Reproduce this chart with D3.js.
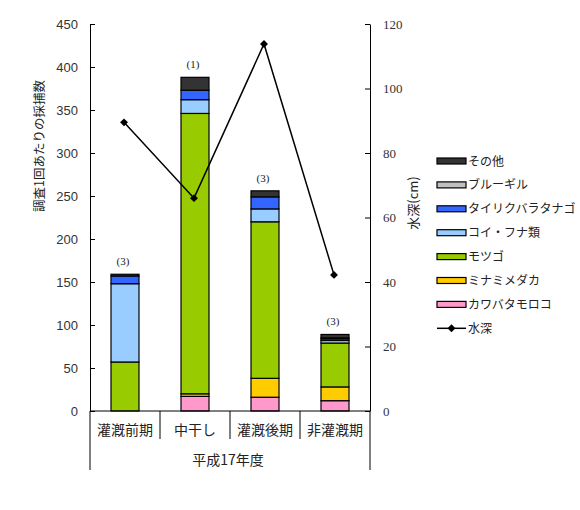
<!DOCTYPE html>
<html>
<head>
<meta charset="utf-8">
<script src="https://cdn.jsdelivr.net/npm/d3@7"></script>
<style>
  html, body { margin: 0; padding: 0; background: #fff; }
  svg { display: block; }
</style>
</head>
<body>
<svg id="chart" width="580" height="510"></svg>
<script>
// ---- data ----
const categories = ["灌漑前期", "中干し", "灌漑後期", "非灌漑期"];
const groupLabel = "平成17年度";
const sampleCounts = ["(3)", "(1)", "(3)", "(3)"];
const seriesNames = ["カワバタモロコ", "ミナミメダカ", "モツゴ", "コイ・フナ類", "タイリクバラタナゴ", "ブルーギル", "その他"];
const kawabata = [0, 17, 16, 12];
const minami   = [0, 3, 22, 16];
const motsugo  = [57, 326, 182, 51];
const koiFuna  = [91, 16, 15, 3];
const tairiku  = [9, 11, 14, 2];
const bluegill = [0, 0, 0, 1];
const other    = [2, 15, 7, 4];
const waterDepth = [89.5, 66, 113.8, 42.2];
const leftTicks = [0, 50, 100, 150, 200, 250, 300, 350, 400, 450];
const rightTicks = [0, 20, 40, 60, 80, 100, 120];
const colors = ["#ff99cc", "#ffcc00", "#99cc00", "#99ccff", "#3366ff", "#c0c0c0", "#333333"];

const seriesValues = [kawabata, minami, motsugo, koiFuna, tairiku, bluegill, other];
const table = categories.map((c, i) => {
  const row = { cat: c };
  seriesNames.forEach((s, j) => row[s] = seriesValues[j][i]);
  return row;
});

// ---- layout ----
const svg = d3.select("#chart");
const L = 90, R = 370, T = 24, B = 411;
const jpFont = "'Noto Sans CJK JP', sans-serif";
const numFont = "'Liberation Sans', Arial, sans-serif";
const serifFont = "'Liberation Serif', 'Times New Roman', serif";

const x = d3.scaleBand().domain(categories).range([L, R]).paddingInner(0).paddingOuter(0);
const yL = d3.scaleLinear().domain([0, 450]).range([B, T]);
const yR = d3.scaleLinear().domain([0, 120]).range([B, T]);

// bars
const stack = d3.stack().keys(seriesNames)(table);
const barW = x.bandwidth() * 0.4;
const gBars = svg.append("g");
stack.forEach((layer, j) => {
  gBars.selectAll(null).data(layer).join("rect")
    .filter(d => d[1] - d[0] > 0)
    .attr("x", d => x(d.data.cat) + (x.bandwidth() - barW) / 2)
    .attr("y", d => yL(d[1]))
    .attr("width", barW)
    .attr("height", d => yL(d[0]) - yL(d[1]))
    .attr("fill", colors[j])
    .attr("stroke", "#000")
    .attr("stroke-width", 1.2);
});

// sample count labels
const totals = table.map(r => d3.sum(seriesNames, s => r[s]));
svg.append("g").selectAll("text").data(categories).join("text")
  .attr("x", d => x(d) + x.bandwidth() / 2 - 2)
  .attr("y", (d, i) => yL(totals[i]) - 9)
  .attr("text-anchor", "middle")
  .attr("font-family", serifFont)
  .attr("font-size", 11)
  .attr("fill", "#222")
  .text((d, i) => sampleCounts[i]);

// left axis
const axL = d3.axisLeft(yL).tickValues(leftTicks).tickSizeInner(-5).tickSizeOuter(0).tickPadding(12);
const gL = svg.append("g").attr("transform", `translate(${L},0)`).call(axL);
gL.select(".domain").attr("stroke", "#000");
gL.selectAll(".tick line").attr("stroke", "#000");
gL.selectAll(".tick text").attr("font-family", numFont).attr("font-size", 13).attr("fill", "#333");

// right axis
const axR = d3.axisRight(yR).tickValues(rightTicks).tickSizeInner(-5).tickSizeOuter(0).tickPadding(13);
const gR = svg.append("g").attr("transform", `translate(${R},0)`).call(axR);
gR.select(".domain").attr("stroke", "#000");
gR.selectAll(".tick line").attr("stroke", "#000");
gR.selectAll(".tick text").attr("font-family", serifFont).attr("font-size", 13).attr("fill", "#333");

// bottom axis line
svg.append("line").attr("x1", L).attr("x2", R).attr("y1", B).attr("y2", B).attr("stroke", "#000");
// category separators
categories.slice(1).forEach(c => {
  svg.append("line").attr("x1", x(c)).attr("x2", x(c)).attr("y1", B).attr("y2", B + 28).attr("stroke", "#000");
});
// outer group lines
[L, R].forEach(px => {
  svg.append("line").attr("x1", px).attr("x2", px).attr("y1", B).attr("y2", B + 59).attr("stroke", "#000");
});
// category labels
svg.append("g").selectAll("text").data(categories).join("text")
  .attr("x", d => x(d) + x.bandwidth() / 2)
  .attr("y", B + 24)
  .attr("text-anchor", "middle")
  .attr("font-family", jpFont)
  .attr("font-size", 14)
  .attr("fill", "#222")
  .text(d => d);
svg.append("text")
  .attr("x", (L + R) / 2 - 2).attr("y", B + 54)
  .attr("text-anchor", "middle")
  .attr("font-family", jpFont).attr("font-size", 14).attr("fill", "#222")
  .text(groupLabel);

// axis titles
svg.append("text")
  .attr("transform", "translate(44,146) rotate(-90)")
  .attr("text-anchor", "middle")
  .attr("font-family", jpFont).attr("font-size", 12.5).attr("fill", "#222")
  .text("調査1回あたりの採捕数");
svg.append("text")
  .attr("transform", "translate(418,203) rotate(-90)")
  .attr("text-anchor", "middle")
  .attr("font-family", jpFont).attr("font-size", 13).attr("fill", "#222")
  .text("水深(cm)");

// line
const cx = d => x(d) + x.bandwidth() / 2 - 1;
const line = d3.line().x((d, i) => cx(categories[i])).y(d => yR(d));
svg.append("path").datum(waterDepth)
  .attr("d", line).attr("fill", "none").attr("stroke", "#000").attr("stroke-width", 1.5);
const sym = d3.symbol().type(d3.symbolDiamond2).size(40);
svg.append("g").selectAll("path").data(waterDepth).join("path")
  .attr("d", sym)
  .attr("transform", (d, i) => `translate(${cx(categories[i])},${yR(d)})`)
  .attr("fill", "#000");

// legend
const legendItems = seriesNames.map((s, j) => ({ name: s, color: colors[j] })).reverse();
const lg = svg.append("g");
const lx = 437, ly0 = 161, ldy = 23.9;
legendItems.forEach((it, i) => {
  const yy = ly0 + i * ldy;
  lg.append("rect").attr("x", lx).attr("y", yy - 3).attr("width", 29).attr("height", 6)
    .attr("fill", it.color).attr("stroke", "#000").attr("stroke-width", 1.2);
  lg.append("text").attr("x", lx + 31).attr("y", yy + 4.5)
    .attr("font-family", jpFont).attr("font-size", 12).attr("fill", "#222").text(it.name);
});
const wy = ly0 + 7 * ldy;
lg.append("line").attr("x1", lx).attr("x2", lx + 29).attr("y1", wy).attr("y2", wy).attr("stroke", "#000").attr("stroke-width", 1.5);
lg.append("path").attr("d", sym).attr("transform", `translate(${lx + 14.5},${wy})`).attr("fill", "#000");
lg.append("text").attr("x", lx + 31).attr("y", wy + 4.5)
  .attr("font-family", jpFont).attr("font-size", 12).attr("fill", "#222").text("水深");
</script>
</body>
</html>
